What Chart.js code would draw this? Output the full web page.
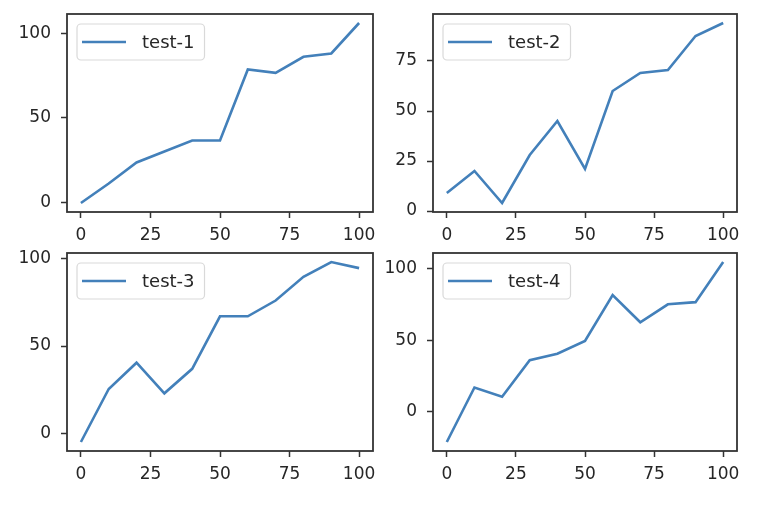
<!DOCTYPE html>
<html>
<head>
<meta charset="utf-8">
<script src="https://cdn.jsdelivr.net/npm/chart.js@4.4.1/dist/chart.umd.min.js"></script>
<style>
  body { margin: 0; background: #fff; }
  canvas { position: absolute; }
</style>
</head>
<body>
<canvas id="c1" width="384" height="240" style="left:0;top:0"></canvas>
<canvas id="c2" width="404" height="240" style="left:364px;top:0"></canvas>
<canvas id="c3" width="384" height="266" style="left:0;top:240px"></canvas>
<canvas id="c4" width="404" height="266" style="left:364px;top:240px"></canvas>
<script>
const xValues = [0, 10, 20, 30, 40, 50, 60, 70, 80, 90, 100];
const test1 = [-0.5, 11, 23.5, 30, 36.5, 36.5, 78.5, 76.5, 86, 88, 106];
const test2 = [9, 20, 4, 28, 45, 21, 60, 69, 70.5, 87.5, 94];
const test3 = [-4.8, 25.5, 40.5, 23, 37, 67, 67, 76, 89.5, 98, 94.5];
const test4 = [-21, 17, 10.5, 36, 40.5, 49.5, 81.5, 62.5, 75, 76.5, 104.5];
const xTicks = [0, 25, 50, 75, 100];
const yTicks1 = [0, 50, 100];
const yTicks2 = [0, 25, 50, 75];
const yTicks3 = [0, 50, 100];
const yTicks4 = [0, 50, 100];

const fontFamily = '"DejaVu Sans", sans-serif';
const inkColor = '#262626';
const frameColor = '#333333';
const lineColor = '#4380ba';

// axes frame + legend box in the upper left corner, like matplotlib
const framePlugin = {
    id: 'frame',
    afterDraw(chart) {
        const ctx = chart.ctx;
        const a = chart.chartArea;
        ctx.save();
        ctx.strokeStyle = frameColor;
        ctx.lineWidth = 1.8;
        ctx.strokeRect(a.left, a.top, a.right - a.left, a.bottom - a.top);

        const ds = chart.data.datasets[0];
        ctx.font = '18px ' + fontFamily;
        const tw = ctx.measureText(ds.label).width;
        const bx = a.left + 10, by = a.top + 10, bw = 66 + tw + 9, bh = 36;
        ctx.beginPath();
        ctx.roundRect(bx, by, bw, bh, 4);
        ctx.fillStyle = 'rgba(255,255,255,0.8)';
        ctx.fill();
        ctx.strokeStyle = '#d9d9d9';
        ctx.lineWidth = 1.2;
        ctx.stroke();

        ctx.beginPath();
        ctx.moveTo(bx + 5, by + bh / 2);
        ctx.lineTo(bx + 49, by + bh / 2);
        ctx.strokeStyle = ds.borderColor;
        ctx.lineWidth = ds.borderWidth;
        ctx.stroke();

        ctx.fillStyle = inkColor;
        ctx.textBaseline = 'middle';
        ctx.fillText(ds.label, bx + 65, by + bh / 2 + 1);
        ctx.restore();
    }
};

function makeChart(id, label, values, yTicks, yWidth, pad) {
    const lo = Math.min(...values);
    const hi = Math.max(...values);
    const m = (hi - lo) * 0.05;
    const tickGrid = {
        display: true,
        drawOnChartArea: false,
        drawTicks: true,
        tickLength: 6,
        tickWidth: 1.5,
        tickColor: frameColor
    };
    const tickFont = { family: fontFamily, size: 17 };
    return new Chart(document.getElementById(id), {
        type: 'line',
        data: {
            labels: xValues,
            datasets: [{
                label: label,
                data: xValues.map((x, i) => ({ x: x, y: values[i] })),
                borderColor: lineColor,
                borderWidth: 2.6,
                pointRadius: 0,
                tension: 0,
                fill: false
            }]
        },
        options: {
            responsive: false,
            animation: false,
            devicePixelRatio: 1,
            layout: { padding: pad },
            plugins: {
                legend: { display: false },
                tooltip: { enabled: false }
            },
            scales: {
                x: {
                    type: 'linear',
                    min: -5,
                    max: 105,
                    afterBuildTicks: s => { s.ticks = xTicks.map(v => ({ value: v })); },
                    afterFit: s => {
                        s.height = 28;
                        s.paddingLeft = 0;
                        s.paddingRight = 0;
                    },
                    grid: tickGrid,
                    border: { display: false },
                    ticks: { padding: 7, color: inkColor, font: tickFont, maxRotation: 0, autoSkip: false }
                },
                y: {
                    type: 'linear',
                    min: lo - m,
                    max: hi + m,
                    afterBuildTicks: s => { s.ticks = yTicks.map(v => ({ value: v })); },
                    afterFit: s => {
                        s.width = yWidth;
                        // keep the plot box where it is, labels may overhang it
                        s.paddingTop = 0;
                        s.paddingBottom = 0;
                    },
                    grid: tickGrid,
                    border: { display: false },
                    ticks: { padding: 10, color: inkColor, font: tickFont, autoSkip: false }
                }
            }
        },
        plugins: [framePlugin]
    });
}

makeChart('c1', 'test-1', test1, yTicks1, 67, { left: 0, top: 14, right: 11, bottom: 0 });
makeChart('c2', 'test-2', test2, yTicks2, 69, { left: 0, top: 14, right: 31, bottom: 0 });
makeChart('c3', 'test-3', test3, yTicks3, 67, { left: 0, top: 13, right: 11, bottom: 27 });
makeChart('c4', 'test-4', test4, yTicks4, 69, { left: 0, top: 13, right: 31, bottom: 27 });
</script>
</body>
</html>
